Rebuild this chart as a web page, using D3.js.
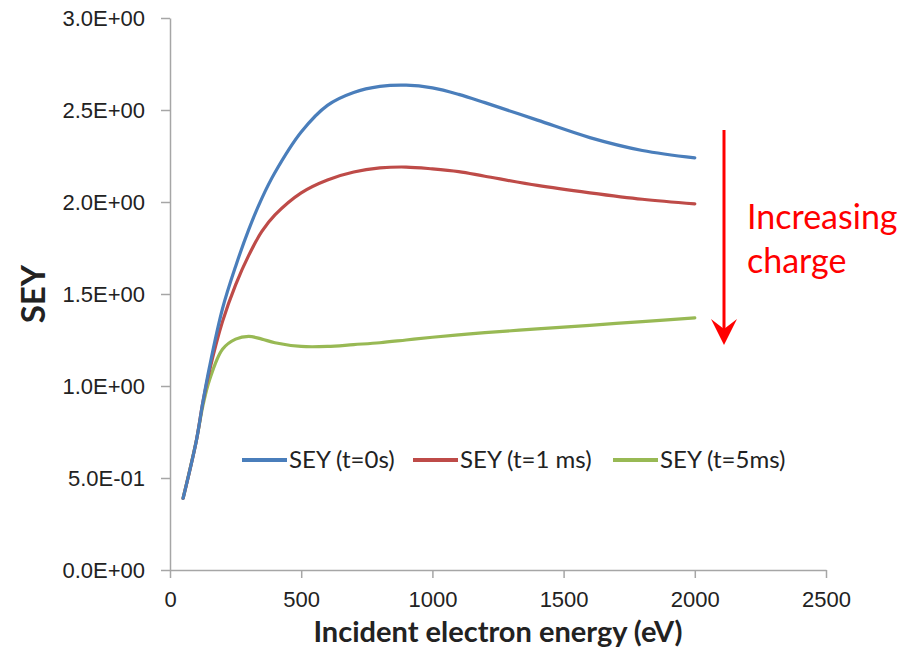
<!DOCTYPE html>
<html>
<head>
<meta charset="utf-8">
<script src="https://cdn.jsdelivr.net/npm/d3@7"></script>
<style>
  html, body { margin: 0; padding: 0; background: #fff; }
  svg { display: block; font-family: Lato, 'Open Sans', sans-serif; }
</style>
</head>
<body>
<div id="chart"></div>
<script>
// Data
const energies = [50, 100, 125, 150, 200, 250, 300, 350, 400, 500, 600, 700, 800, 900, 1000, 1100, 1200, 1400, 1600, 1800, 2000]
const seyT0 = [0.39, 0.70, 0.91, 1.10, 1.42, 1.65, 1.85, 2.02, 2.16, 2.38, 2.525, 2.595, 2.628, 2.635, 2.62, 2.585, 2.54, 2.445, 2.35, 2.28, 2.24]
const seyT1 = [0.39, 0.70, 0.91, 1.08, 1.35, 1.55, 1.71, 1.84, 1.93, 2.05, 2.12, 2.163, 2.185, 2.19, 2.18, 2.165, 2.14, 2.09, 2.05, 2.015, 1.99]
const seyT5 = [0.39, 0.70, 0.89, 1.03, 1.20, 1.255, 1.27, 1.255, 1.235, 1.215, 1.215, 1.225, 1.235, 1.25, 1.265, 1.278, 1.29, 1.31, 1.33, 1.35, 1.37]
const seriesNames = ['SEY (t=0s)', 'SEY (t=1 ms)', 'SEY (t=5ms)']
const seriesColors = ['#4a7ebb', '#be4b48', '#98b954']
const xTicks = [0, 500, 1000, 1500, 2000, 2500]
const yTicks = [0, 0.5, 1.0, 1.5, 2.0, 2.5, 3.0]

const width = 911
const height = 648
const margins = { top: 18, right: 85, bottom: 78, left: 170 }

const datasets = [seyT0, seyT1, seyT5].map((vals, i) => ({
  name: seriesNames[i],
  color: seriesColors[i],
  data: energies.map((e, j) => [e, vals[j]])
}))

const xScale = d3.scaleLinear()
  .domain([0, 2500])
  .range([margins.left, width - margins.right])

const yScale = d3.scaleLinear()
  .domain([0, 3])
  .range([height - margins.bottom, margins.top])

const yTickFormatter = v => v.toExponential(1).replace(/e([+-])(\d)$/, 'E$10$2').toUpperCase()

const svg = d3.select('#chart').append('svg')
  .attr('width', width)
  .attr('height', height)
  .attr('viewBox', [0, 0, width, height].join(' '))

// Axes
const axisColor = '#a6a6a6'

const xAxis = svg.append('g')
  .attr('transform', `translate(0, ${yScale(0)})`)
  .call(d3.axisBottom(xScale).tickValues(xTicks).tickSize(8).tickSizeOuter(0).tickPadding(13).tickFormat(d3.format('d')))
xAxis.select('.domain').attr('stroke', axisColor).attr('stroke-width', 1.5)
xAxis.selectAll('.tick line').attr('stroke', axisColor).attr('stroke-width', 1.5)
xAxis.selectAll('.tick text').attr('fill', '#222').style('font-size', '22px')

const yAxis = svg.append('g')
  .attr('transform', `translate(${margins.left}, 0)`)
  .call(d3.axisLeft(yScale).tickValues(yTicks).tickSize(9).tickSizeOuter(0).tickPadding(16).tickFormat(yTickFormatter))
yAxis.select('.domain').attr('stroke', axisColor).attr('stroke-width', 1.5)
yAxis.selectAll('.tick line').attr('stroke', axisColor).attr('stroke-width', 1.5)
yAxis.selectAll('.tick text').attr('fill', '#222').style('font-size', '22px')

// Axis titles
svg.append('text')
  .attr('x', 498)
  .attr('y', 642)
  .attr('text-anchor', 'middle')
  .attr('font-weight', 'bold')
  .attr('fill', '#222')
  .style('font-size', '29px')
  .text('Incident electron energy (eV)')

svg.append('text')
  .attr('transform', `translate(45, ${(yScale(0) + yScale(3)) / 2}) rotate(-90)`)
  .attr('text-anchor', 'middle')
  .attr('font-weight', 'bold')
  .attr('fill', '#222')
  .style('font-size', '33px')
  .text('SEY')

// Lines
const line = d3.line()
  .x(d => xScale(d[0]))
  .y(d => yScale(d[1]))
  .curve(d3.curveCatmullRom.alpha(0.5))

datasets.slice().reverse().forEach(ds => {
  svg.append('path')
    .datum(ds.data)
    .attr('d', line)
    .attr('fill', 'none')
    .attr('stroke', ds.color)
    .attr('stroke-width', 3.2)
    .attr('stroke-linecap', 'round')
    .attr('stroke-linejoin', 'round')
})

// Legend
const legendY = 460
const legendX = [242, 413, 613]
const legend = svg.append('g')
datasets.forEach((ds, i) => {
  const g = legend.append('g').attr('transform', `translate(${legendX[i]}, ${legendY})`)
  g.append('line')
    .attr('x1', 0).attr('x2', 45)
    .attr('stroke', ds.color)
    .attr('stroke-width', 4)
  g.append('text')
    .attr('x', 47)
    .attr('dy', '0.35em')
    .attr('fill', '#222')
    .style('font-size', '24px')
    .text(ds.name)
})

// Annotation arrow
const arrowX = 724
svg.append('line')
  .attr('x1', arrowX).attr('x2', arrowX)
  .attr('y1', 130).attr('y2', 330)
  .attr('stroke', '#ff0000')
  .attr('stroke-width', 3)
svg.append('path')
  .attr('d', `M${arrowX},345 L${arrowX - 13},319 L${arrowX},329 L${arrowX + 13},319 Z`)
  .attr('fill', '#ff0000')

svg.append('text')
  .attr('x', 747)
  .attr('y', 229)
  .attr('fill', '#ff0000')
  .style('font-size', '34px')
  .text('Increasing')
svg.append('text')
  .attr('x', 747)
  .attr('y', 273)
  .attr('fill', '#ff0000')
  .style('font-size', '34px')
  .text('charge')
</script>
</body>
</html>
